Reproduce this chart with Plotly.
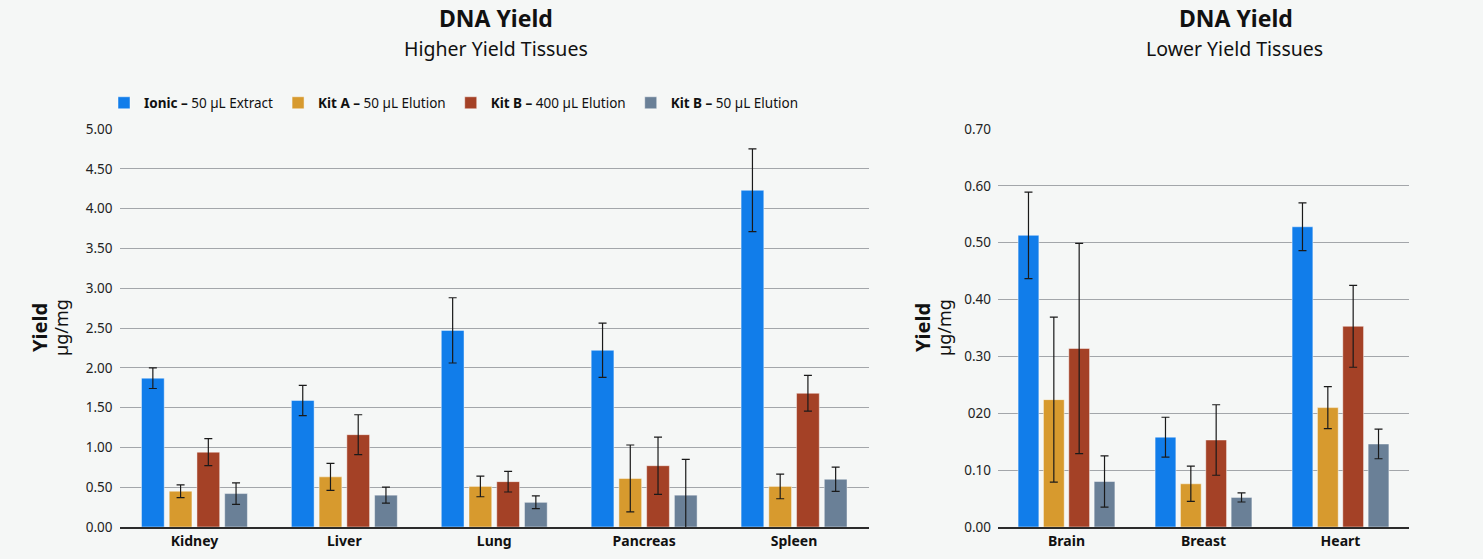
import plotly.graph_objects as go

# ---------------- data ----------------
categories_high = ["Kidney", "Liver", "Lung", "Pancreas", "Spleen"]
ionic_high = [1.87, 1.59, 2.47, 2.22, 4.23]
ionic_high_err = [0.13, 0.19, 0.41, 0.34, 0.52]
kitA_high = [0.45, 0.63, 0.51, 0.61, 0.51]
kitA_high_err = [0.08, 0.17, 0.13, 0.42, 0.155]
kitB400_high = [0.94, 1.16, 0.57, 0.77, 1.68]
kitB400_high_err = [0.17, 0.25, 0.13, 0.36, 0.225]
kitB50_high = [0.42, 0.40, 0.31, 0.40, 0.60]
kitB50_high_err = [0.135, 0.10, 0.08, 0.45, 0.153]

categories_low = ["Brain", "Breast", "Heart"]
ionic_low = [0.513, 0.158, 0.528]
ionic_low_err = [0.076, 0.035, 0.042]
kitA_low = [0.224, 0.076, 0.210]
kitA_low_err = [0.145, 0.031, 0.037]
kitB400_low = [0.314, 0.153, 0.353]
kitB400_low_err = [0.185, 0.062, 0.072]
kitB50_low = [0.080, 0.052, 0.146]
kitB50_low_err = [0.045, 0.008, 0.026]

series_names = [
    "<b>Ionic –</b> 50 µL Extract",
    "<b>Kit A –</b> 50 µL Elution",
    "<b>Kit B –</b> 400 µL Elution",
    "<b>Kit B –</b> 50 µL Elution",
]
colors = ["#117DEA", "#D79A2E", "#A44126", "#6A8097"]

high_ticks = [0, 0.5, 1, 1.5, 2, 2.5, 3, 3.5, 4, 4.5, 5]
high_tick_labels = ["0.00", "0.50", "1.00", "1.50", "2.00", "2.50", "3.00", "3.50", "4.00", "4.50", "5.00"]
low_ticks = [0, 0.1, 0.2, 0.3, 0.4, 0.5, 0.6, 0.7]
low_tick_labels = ["0.00", "0.10", "020", "0.30", "0.40", "0.50", "0.60", "0.70"]

FONT = "Noto Sans"
BG = "#F5F7F6"

fig = go.Figure()

high_vals = [ionic_high, kitA_high, kitB400_high, kitB50_high]
high_errs = [ionic_high_err, kitA_high_err, kitB400_high_err, kitB50_high_err]
low_vals = [ionic_low, kitA_low, kitB400_low, kitB50_low]
low_errs = [ionic_low_err, kitA_low_err, kitB400_low_err, kitB50_low_err]

for i in range(4):
    fig.add_trace(go.Bar(
        x=categories_high, y=high_vals[i], name=series_names[i],
        marker=dict(color=colors[i], line=dict(color="rgba(255,255,255,0.45)", width=1)),
        error_y=dict(type="data", array=high_errs[i], color="#1a1a1a", thickness=1.2, width=4),
        xaxis="x", yaxis="y", legendgroup=str(i), showlegend=True,
    ))
for i in range(4):
    fig.add_trace(go.Bar(
        x=categories_low, y=low_vals[i], name=series_names[i],
        marker=dict(color=colors[i], line=dict(color="rgba(255,255,255,0.45)", width=1)),
        error_y=dict(type="data", array=low_errs[i], color="#1a1a1a", thickness=1.2, width=4),
        xaxis="x2", yaxis="y2", legendgroup=str(i), showlegend=False,
    ))

W, H = 1483, 559
top, bottom = 129, 527
ph = bottom - top

def py(pix):
    return (bottom - pix) / ph

axis_common = dict(
    showgrid=True, gridcolor="#A3A6AA", gridwidth=1,
    zeroline=False, showline=False, ticks="", ticklabelstandoff=6,
    tickfont=dict(family=FONT, size=13.5, color="#222"),
)

fig.update_layout(
    width=W, height=H,
    margin=dict(l=0, r=0, t=top, b=H - bottom),
    paper_bgcolor=BG, plot_bgcolor=BG,
    barmode="group", bargap=0.26, bargroupgap=0.18,
    font=dict(family=FONT, color="#111"),
    xaxis=dict(domain=[119.5 / W, 869 / W], anchor="y", showgrid=False,
               showline=True, linecolor="#2b2b2b", linewidth=1.5, ticks="",
               tickfont=dict(family=FONT, size=14, color="#111", weight="bold")),
    yaxis=dict(anchor="x", range=[0, 5], tickvals=high_ticks, ticktext=high_tick_labels,
               **axis_common),
    xaxis2=dict(domain=[998 / W, 1409 / W], anchor="y2", showgrid=False,
                showline=True, linecolor="#2b2b2b", linewidth=1.5, ticks="",
                tickfont=dict(family=FONT, size=14, color="#111", weight="bold")),
    yaxis2=dict(anchor="x2", range=[0, 0.7], tickvals=low_ticks, ticktext=low_tick_labels,
                **axis_common),
    legend=dict(orientation="h", x=104 / W, xanchor="left", y=py(103), yanchor="middle",
                font=dict(family=FONT, size=13.5, color="#111"),
                bgcolor="rgba(0,0,0,0)", itemclick=False, traceorder="normal"),
)

annotations = [
    dict(text="<b>DNA Yield</b>", x=496 / W, y=py(18), font=dict(size=23)),
    dict(text="Higher Yield Tissues", x=496 / W, y=py(48), font=dict(size=19.5)),
    dict(text="<b>DNA Yield</b>", x=1236 / W, y=py(18), font=dict(size=23)),
    dict(text="Lower Yield Tissues", x=1234 / W, y=py(48), font=dict(size=19.5)),
    dict(text="<b>Yield</b>", x=39 / W, y=py(328), font=dict(size=20), textangle=-90),
    dict(text="µg/mg", x=61 / W, y=py(328), font=dict(size=18), textangle=-90),
    dict(text="<b>Yield</b>", x=922 / W, y=py(328), font=dict(size=20), textangle=-90),
    dict(text="µg/mg", x=944 / W, y=py(328), font=dict(size=18), textangle=-90),
]
for a in annotations:
    fig.add_annotation(xref="paper", yref="paper", showarrow=False,
                       xanchor="center", yanchor="middle",
                       text=a["text"], x=a["x"], y=a["y"],
                       textangle=a.get("textangle", 0),
                       font=dict(family=FONT, color="#111", **a["font"]))

fig.write_html("out.html")
